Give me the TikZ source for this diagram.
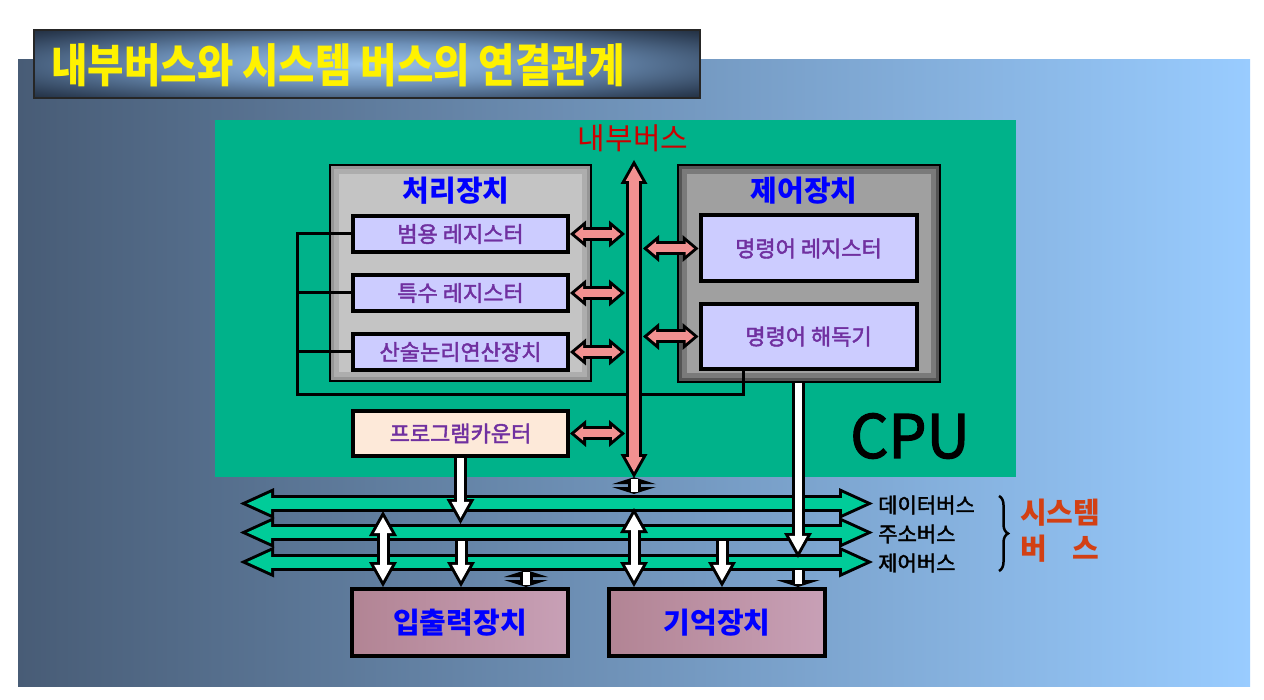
\documentclass[tikz,border=0pt]{standalone}
\usepackage{fontspec}
\setmainfont{Noto Sans CJK KR}
\newfontfamily\titlefont{Noto Sans CJK KR}[FakeStretch=0.86]
\newfontfamily\medfont{Noto Sans CJK KR}[FakeBold=2]
\usetikzlibrary{arrows.meta,decorations.pathreplacing}

\definecolor{bgleft}{RGB}{72,92,118}
\definecolor{bgright}{RGB}{153,204,255}
\definecolor{glowblue}{RGB}{155,195,236}
\definecolor{glowmid}{RGB}{110,145,185}
\definecolor{glowlow}{RGB}{45,62,85}
\definecolor{cpugreen}{RGB}{0,178,138}
\definecolor{busgreen}{RGB}{0,204,153}
\definecolor{buspink}{RGB}{242,145,145}
\definecolor{regfill}{RGB}{204,204,255}
\definecolor{regtext}{RGB}{112,48,160}
\definecolor{pcfill}{RGB}{253,233,217}
\definecolor{devleft}{RGB}{178,132,148}
\definecolor{devright}{RGB}{200,160,182}
\definecolor{sysred}{RGB}{210,64,20}
\definecolor{busred}{RGB}{204,0,0}
\definecolor{procin}{RGB}{196,196,196}
\definecolor{procout}{RGB}{150,150,150}
\definecolor{ctrlin}{RGB}{160,160,160}
\definecolor{ctrlout}{RGB}{85,85,85}

\pgfdeclareradialshading{titleglow}{\pgfpointorigin}{color(0bp)=(glowblue); color(15bp)=(glowmid); color(32bp)=(glowlow); color(47bp)=(black); color(50bp)=(black)}

\tikzset{
  gto/.tip={Triangle[width=31pt,length=34pt,line width=0pt]},
  gti/.tip={Triangle[width=21.6pt,length=23.8pt,line width=0pt]},
  wto/.tip={Triangle[width=28pt,length=25pt,line width=0pt]},
  wti/.tip={Triangle[width=17.8pt,length=15.9pt,line width=0pt]},
  pto/.tip={Triangle[width=27pt,length=16pt,line width=0pt]},
  pti/.tip={Triangle[width=14pt,length=8.4pt,line width=0pt]},
  vto/.tip={Triangle[width=27pt,length=24pt,line width=0pt]},
  vti/.tip={Triangle[width=16.7pt,length=14.9pt,line width=0pt]},
  fto/.tip={Triangle[width=44pt,length=7pt,line width=0pt]},
  gbus/.style={line width=17pt, color=black, gto-gto,
    postaction={draw, color=busgreen, line width=11pt, shorten <=7.2pt, shorten >=7.2pt, gti-gti}},
  warrow/.style={line width=13pt, color=black, -wto,
    postaction={draw, color=white, line width=7pt, shorten >=6.2pt, -wti}},
  wdarrow/.style={line width=13pt, color=black, wto-wto,
    postaction={draw, color=white, line width=7pt, shorten <=6.2pt, shorten >=6.2pt, wti-wti}},
  wflat/.style={line width=13pt, color=black, fto-fto,
    postaction={draw, color=white, line width=7pt, shorten <=2pt, shorten >=2pt, -}},
  wflatend/.style={line width=13pt, color=black, -fto,
    postaction={draw, color=white, line width=7pt, shorten >=3pt, -}},
  parrow/.style={line width=14pt, color=black, pto-pto,
    postaction={draw, color=buspink, line width=8pt, shorten <=4.6pt, shorten >=4.6pt, pti-pti}},
  pbus/.style={line width=16pt, color=black, vto-vto,
    postaction={draw, color=buspink, line width=10pt, shorten <=6.1pt, shorten >=6.1pt, vti-vti}},
  unitbox/.style 2 args={draw=black, line width=1.5pt, fill=#1, inner sep=0pt,
    path picture={
      \draw[#2!50!#1, line width=18pt] (path picture bounding box.south west) rectangle (path picture bounding box.north east);
      \draw[#2, line width=8pt] (path picture bounding box.south west) rectangle (path picture bounding box.north east);}},
  unittitle/.style={text=blue, inner sep=0pt, font=\bfseries\fontsize{29}{32}\selectfont},
  regbox/.style={draw=black, line width=4pt, fill=regfill, text=regtext, inner sep=0pt,
    minimum width=215pt, minimum height=36pt, font=\medfont\fontsize{22}{26}\selectfont},
  devbox/.style={draw=black, line width=4pt, left color=devleft, right color=devright, text=blue,
    inner sep=0pt, minimum width=216pt, minimum height=67pt, font=\bfseries\fontsize{29}{32}\selectfont},
  buslabel/.style={anchor=west, inner sep=0pt, font=\medfont\fontsize{21}{24}\selectfont},
  syslabel/.style={anchor=west, inner sep=0pt, text=sysred, font=\bfseries\fontsize{29}{32}\selectfont},
  wire/.style={draw=black, line width=3pt}
}

\begin{document}
\begin{tikzpicture}[x=1pt,y=-1pt]
\useasboundingbox (0,0) rectangle (1264,700);
\fill[white] (0,0) rectangle (1264,700);
\shade[left color=bgleft, right color=bgright] (18,60) rectangle (1250,686);

\path[shading=titleglow, draw=black!85, line width=1.5pt] (34,30) rectangle (700,98);
\node[text=yellow, inner sep=0pt, font=\titlefont\bfseries\fontsize{46}{50}\selectfont] (title) at (338,65) {내부버스와 시스템 버스의 연결관계};

\node[fill=cpugreen, inner sep=0pt, minimum width=801pt, minimum height=357pt] (cpu) at (615.5,298.5) {};
\node[text=busred, inner sep=0pt, font=\fontsize{30}{32}\selectfont] (iblab) at (633,138) {내부버스};

\node[unitbox={procin}{procout}, minimum width=261pt, minimum height=216pt] (proc) at (460.5,273) {};
\node[unitbox={ctrlin}{ctrlout}, minimum width=262pt, minimum height=217pt] (ctrl) at (809,273.5) {};
\node[unittitle] (proctitle) at (456,191) {처리장치};
\node[unittitle] (ctrltitle) at (804,191) {제어장치};

\node[regbox] (gpr) at (460.5,234) {범용 레지스터};
\node[regbox] (spr) at (460.5,293) {특수 레지스터};
\node[regbox] (alu) at (460.5,352) {산술논리연산장치};
\node[regbox, fill=pcfill, minimum height=45pt] (pc) at (460.5,433.5) {프로그램카운터\hspace{24pt}};
\node[regbox, minimum width=216pt, minimum height=66pt] (ir) at (808.5,248.5) {명령어 레지스터};
\node[regbox, minimum width=216pt, minimum height=65pt] (dec) at (808.5,336.5) {명령어 해독기};

\coordinate (wl) at (297,395);
\coordinate (wr) at (743,395);
\draw[wire] (gpr.west) -| (wl) -- (wr) -- (wr |- dec.south);
\draw[wire] (spr.west) -- (spr.west -| wl);
\draw[wire] (alu.west) -- (alu.west -| wl);

\coordinate (ibT) at (634,160);
\coordinate (ibB) at (634,478);
\coordinate (ibL) at (625,300);
\coordinate (ibR) at (643,300);
\draw[pbus] (ibT) -- (ibB);
\draw[parrow] (gpr.east) -- (gpr.east -| ibL);
\draw[parrow] (spr.east) -- (spr.east -| ibL);
\draw[parrow] (alu.east) -- (alu.east -| ibL);
\draw[parrow] (pc.east) -- (pc.east -| ibL);
\draw[parrow] (ibR |- ir.west) -- (ir.west);
\draw[parrow] (ibR |- dec.west) -- (dec.west);

\node[devbox] (io) at (460,622.5) {입출력장치};
\node[devbox] (mem) at (717,622.5) {기억장치};

\coordinate (dbL) at (240,503.5);
\coordinate (dbR) at (873,503.5);
\coordinate (abL) at (240,532.5);
\coordinate (abR) at (873,532.5);
\coordinate (cbL) at (240,562);
\coordinate (cbR) at (873,562);
\draw[gbus] (dbL) -- (dbR);
\draw[gbus] (abL) -- (abR);
\draw[gbus] (cbL) -- (cbR);

\coordinate (pcend) at (461,524);
\coordinate (ctlend) at (798,558);
\coordinate (ioup) at (383,511);
\coordinate (iodown) at (461,541);
\coordinate (iosmall) at (526,570);
\coordinate (memup) at (634,508);
\coordinate (memdown) at (722,541);
\coordinate (memsmall) at (798,570);
\coordinate (cpusmall) at (634,494);
\draw[warrow] (pc.south) -- (pc.south |- pcend);
\draw[warrow] (ctrl.south -| ctlend) -- (ctlend);
\draw[wdarrow] (ioup) -- (io.north -| ioup);
\draw[warrow] (iodown) -- (io.north -| iodown);
\draw[wflat] (iosmall) -- (io.north -| iosmall);
\draw[wdarrow] (memup) -- (mem.north -| memup);
\draw[warrow] (memdown) -- (mem.north -| memdown);
\draw[wflatend] (memsmall) -- (mem.north -| memsmall);
\draw[wflat] (cpu.south -| cpusmall) -- (cpusmall);

\node[buslabel] (dlab) at (878,505) {데이터버스};
\node[buslabel] (alab) at (878,534) {주소버스};
\node[buslabel] (clab) at (878,563) {제어버스};
\coordinate (brT) at (999,496);
\coordinate (brB) at (999,571);
\draw[line width=2.5pt, decorate, decoration={brace, amplitude=9pt}] (brT) -- (brB);
\node[syslabel] (sys1) at (1020,513) {시스템};
\node[syslabel] (sys2) at (1020,549) {버\hspace{0.9em}스};

\node[inner sep=0pt, font=\medfont\fontsize{60}{64}\selectfont] (cpulabel) at (910,436) {CPU};
\end{tikzpicture}
\end{document}
